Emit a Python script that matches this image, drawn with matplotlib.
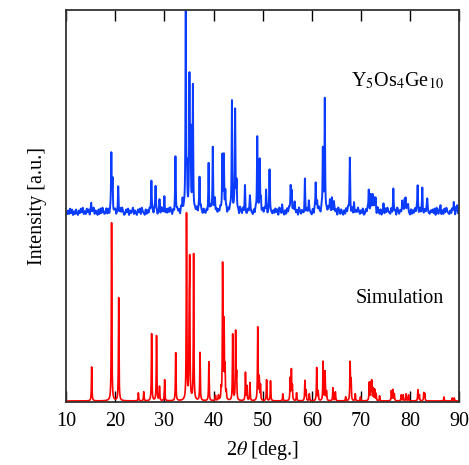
import numpy as np
import matplotlib
matplotlib.use("Agg")
import matplotlib.pyplot as plt

plt.rcParams['font.family'] = ['Liberation Serif', 'DejaVu Serif']
plt.rcParams['mathtext.fontset'] = 'stix'

# simulated pattern: peak positions (2theta) and heights (a.u.)
sim_pos = [15.2, 19.25, 20.7, 24.7, 25.8, 27.4, 28.4, 29.0, 30.05, 32.3,
           34.5, 35.05, 35.15, 35.95, 37.25, 39.05, 40.4, 41.0, 41.55, 41.85,
           42.15, 42.35, 42.6, 43.9, 44.5, 44.7, 46.5, 46.8, 47.4, 49.0,
           49.3, 49.55, 50.8, 51.6, 54.1, 55.6, 55.85, 56.05, 56.9, 58.6,
           58.85, 59.5, 61.0, 61.3, 62.3, 62.7, 63.0, 64.3, 64.8, 66.9,
           67.8, 68.0, 68.85, 69.9, 71.7, 72.0, 72.2, 72.5, 72.8, 73.1,
           73.8, 76.2, 76.5, 76.8, 78.2, 78.6, 79.2, 79.7, 81.6, 81.9,
           82.8, 83.0, 86.9, 88.6, 89.0]
sim_int = [34, 178, 103, 8, 9, 67, 65, 14, 21, 48,
           186, 75, 124, 146, 48, 39, 5, 5, 10, 135,
           76, 30, 8, 66, 68, 25, 28, 14, 18, 73,
           22, 15, 21, 20, 7, 22, 30, 14, 8, 20,
           10, 7, 33, 9, 39, 29, 9, 13, 9, 4,
           38, 20, 7, 4, 18, 17, 19, 12, 11, 7,
           5, 10, 11, 7, 6, 6, 7, 6, 11, 6,
           8, 7, 4, 3, 3]

# measured pattern: peak positions and heights (a.u.)
exp_pos = [15.1, 19.2, 19.45, 20.6, 27.35, 28.2, 29.0, 30.0, 32.25, 33.7,
           34.35, 34.6, 35.1, 35.3, 35.8, 37.15, 39.0, 39.85, 40.3, 41.8,
           42.1, 42.4, 43.75, 44.4, 44.7, 46.4, 47.4, 48.9, 49.4, 49.65,
           50.7, 51.4, 53.95, 55.7, 55.9, 56.5, 58.6, 59.4, 60.8, 61.1,
           62.25, 62.65, 63.7, 64.1, 64.5, 67.75, 68.6, 71.6, 72.0, 72.4,
           72.8, 73.0, 74.6, 76.6, 78.4, 78.9, 79.1, 79.6, 81.55, 82.5,
           83.5, 86.2, 88.9, 89.6]
exp_int = [9, 58, 28, 24, 28, 27, 10, 14, 53, 12,
           198, 38, 128, 68, 126, 36, 45, 66, 12, 57,
           54, 22, 111, 102, 26, 25, 12, 74, 47, 12,
           22, 38, 6, 25, 21, 9, 30, 7, 30, 9,
           62, 115, 12, 14, 9, 55, 7, 21, 19, 17,
           14, 11, 7, 21, 14, 11, 12, 7, 25, 25,
           11, 8, 9, 6]

# measured background wiggle, one value every 0.2 deg from 10 to 90
exp_bg = ("3151726041" "6205273814" "1736052481" "5306172841" "2716053814"
          "6025173840" "1637052481" "5206371842" "0615273841" "7250361842"
          "5162738405" "1726350841" "6270153842" "1537260841" "6215073842"
          "0716253841" "5207163842" "1627350841" "7250163842" "0517263841"
          "6271503842" "1527360841" "6205173842" "1736250841" "5207163842"
          "0617253841" "7260153842" "1527360841" "6205173842" "0716253841"
          "5270163842" "1637250841" "6025173842" "1716350841" "5207263842"
          "0615273841" "7250163842" "1536270841" "6205173842" "1527360841" "4")

blue = '#0a3cff'
red = '#ff0000'


def pattern(x, pos, hts, w):
    y = np.zeros_like(x)
    for p, h in zip(pos, hts):
        y += h * w ** 2 / ((x - p) ** 2 + w ** 2)
    return y


tt = np.arange(10, 90.001, 0.01)
bg_x = np.linspace(10, 90, len(exp_bg))
bg_y = np.array([int(c) for c in exp_bg]) * 0.9

sim = 1 + pattern(tt, sim_pos, sim_int, 0.06)
meas = 187 + np.interp(tt, bg_x, bg_y) + pattern(tt, exp_pos, exp_int, 0.07)

fig = plt.figure(figsize=(4.69, 4.65), dpi=100)
ax = fig.add_axes([0.141, 0.1355, 0.838, 0.843])

ax.plot(tt, meas, color=blue, lw=1.4)
ax.plot(tt, sim, color=red, lw=1.2)

ax.set_xlim(10, 90)
ax.set_ylim(0, 392)
ax.set_xticks(range(10, 91, 10))
ax.set_yticks([])
ax.tick_params(axis='x', direction='in', top=True, length=8, width=1,
               labelsize=14.5, pad=7)
for s in ax.spines.values():
    s.set_linewidth(1.3)
    s.set_color('#333333')

ax.set_xlabel(r'2$\theta$ [deg.]', fontsize=14.5, labelpad=6)
ax.set_ylabel('Intensity [a.u.]', fontsize=14.5, labelpad=14)

ax.text(0.962, 0.82, r'Y$_5$Os$_4$Ge$_{10}$', transform=ax.transAxes,
        fontsize=14.5, ha='right', va='center')
ax.text(0.962, 0.265, 'Simulation', transform=ax.transAxes,
        fontsize=14.5, ha='right', va='center')

fig.savefig('out.png', dpi=100)
